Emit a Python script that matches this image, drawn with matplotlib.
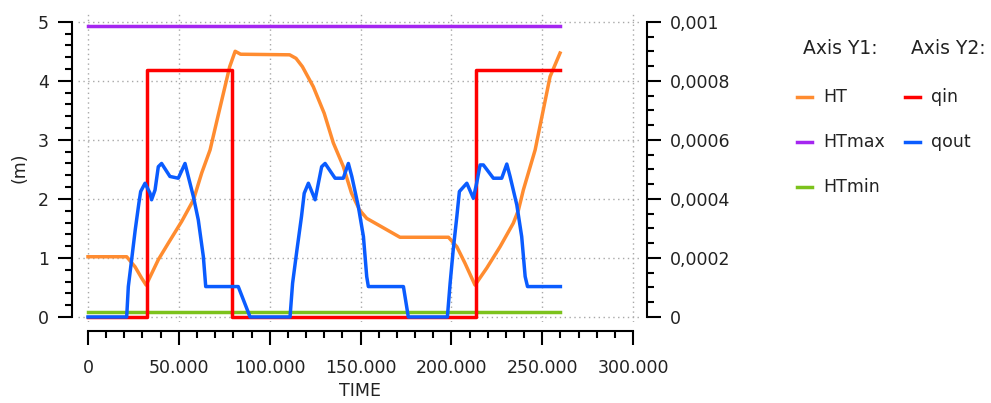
import numpy as np
import matplotlib
matplotlib.use("Agg")
import matplotlib.pyplot as plt
from matplotlib.ticker import MultipleLocator, FuncFormatter
from matplotlib.lines import Line2D

# ---- data ----
ht_t = [0, 21300, 25900, 29500, 32000, 38700, 44200, 51600, 58000, 62600, 67200,
        71000, 78000, 81000, 84000, 111000, 114500, 118000, 124000, 130000, 135000,
        140500, 145000, 149500, 153400, 162000, 171700, 198400, 203000, 207500,
        213000, 219500, 226800, 234100, 236900, 239600, 246100, 254300, 259800]
ht_v = [1.02, 1.02, 0.85, 0.66, 0.54, 0.97, 1.25, 1.62, 1.98, 2.44, 2.83,
        3.33, 4.24, 4.50, 4.45, 4.44, 4.38, 4.24, 3.90, 3.45, 2.95,
        2.55, 2.10, 1.81, 1.67, 1.52, 1.35, 1.35, 1.19, 0.91,
        0.54, 0.83, 1.19, 1.59, 1.81, 2.15, 2.83, 4.07, 4.47]

htmax_t = [0, 260000]
htmax_v = [4.92, 4.92]
htmin_t = [0, 260000]
htmin_v = [0.085, 0.085]

qin_t = [0, 32300, 79400, 213400, 260000]
qin_v = [0, 0.000835, 0, 0.000835, 0.000835]

qout_t = [0, 21300, 22200, 24000, 26000, 28000, 29000, 31400, 34100, 35000, 36900,
          38700, 40500, 45100, 49700, 53400, 55200, 58000, 60700, 63500, 64800,
          82700, 89200,
          111200, 112600, 115000, 117500, 119000, 121300, 125000, 126800, 128600,
          130500, 136000, 140500, 143300, 145200, 148800, 151600, 153400, 154300,
          173600, 176300,
          197800, 199300, 201000, 203000, 204400, 208500, 212100, 213900, 215800,
          217600, 223100, 227700, 230500, 232300, 236000, 238700, 240600, 241900,
          260000]
qout_v = [0, 0, 0.000103, 0.000193, 0.000295, 0.000385, 0.000425, 0.000453, 0.00042,
          0.000397, 0.00043, 0.000509, 0.00052, 0.000476, 0.00047, 0.00052, 0.000476,
          0.000408, 0.000329, 0.000204, 0.000103,
          0.000103, 0,
          0, 0.000114, 0.000227, 0.00034, 0.000419, 0.000453, 0.000397, 0.000453,
          0.000509, 0.00052, 0.00047, 0.00047, 0.00052, 0.000476, 0.000374, 0.000272,
          0.000137, 0.000103,
          0.000103, 0,
          0, 0.000114, 0.000227, 0.00034, 0.000425, 0.000453, 0.000402, 0.000453,
          0.000515, 0.000515, 0.00047, 0.00047, 0.000518, 0.000476, 0.00038, 0.000272,
          0.000137, 0.000103,
          0.000103]

c_ht = "#ff8c30"
c_max = "#a526f0"
c_min = "#7cc21c"
c_qin = "#ff0000"
c_qout = "#0a5cff"
lw = 2.5
txt = "#222222"
fs = 12.5

plt.rcParams['font.family'] = ['DejaVu Sans']

fig = plt.figure(figsize=(9.91, 4.03), dpi=100)
ax = fig.add_axes([0.0787, 0.201, 0.5693, 0.767])
ax2 = ax.twinx()

ax.plot(htmax_t, htmax_v, color=c_max, lw=lw)
ax.plot(ht_t, ht_v, color=c_ht, lw=lw)
ax.plot(htmin_t, htmin_v, color=c_min, lw=lw, zorder=5)

ax2.plot(qin_t, qin_v, color=c_qin, lw=lw, drawstyle="steps-post")
ax2.plot(qout_t, qout_v, color=c_qout, lw=lw)

ax.set_xlim(-5500, 305000)
ax.set_ylim(-0.085, 5.15)
ax2.set_ylim(-0.085 * 0.0002, 5.15 * 0.0002)

ax.xaxis.set_major_locator(MultipleLocator(50000))
ax.xaxis.set_minor_locator(MultipleLocator(10000))
ax.yaxis.set_major_locator(MultipleLocator(1))
ax.yaxis.set_minor_locator(MultipleLocator(0.2))
ax2.yaxis.set_major_locator(MultipleLocator(0.0002))
ax2.yaxis.set_minor_locator(MultipleLocator(0.00005))

ax.xaxis.set_major_formatter(FuncFormatter(lambda v, p: f"{int(round(v)):,}".replace(",", ".")))
ax.yaxis.set_major_formatter(FuncFormatter(lambda v, p: f"{v:g}"))
ax2.yaxis.set_major_formatter(FuncFormatter(
    lambda v, p: "0" if abs(v) < 1e-12 else f"{round(v, 6):g}".replace(".", ",")))

ax.grid(True, which="major", color="#a8a8a8", linestyle=(0, (1, 2.5)), lw=1)

for a in (ax, ax2):
    a.spines["top"].set_visible(False)
ax.spines["right"].set_visible(False)
ax2.spines["left"].set_visible(False)
ax2.spines["bottom"].set_visible(False)

ax.spines["left"].set_position(("outward", 4))
ax.spines["left"].set_bounds(0, 5)
ax.spines["bottom"].set_position(("outward", 6.5))
ax.spines["bottom"].set_bounds(0, 300000)
ax2.spines["right"].set_position(("outward", 3.6))
ax2.spines["right"].set_bounds(0, 0.001)
for s in (ax.spines["left"], ax.spines["bottom"], ax2.spines["right"]):
    s.set_linewidth(1.5)

ax.tick_params(axis="both", which="major", direction="out", length=10, width=1.5,
               colors="black", labelcolor=txt, labelsize=fs)
ax.tick_params(axis="both", which="minor", direction="out", length=5, width=1.5, colors="black")
ax.tick_params(axis="y", which="major", pad=7)
ax.tick_params(axis="x", which="major", pad=10)
ax2.tick_params(axis="y", which="major", direction="out", length=10, width=1.5,
                colors="black", labelcolor=txt, labelsize=fs, pad=6)
ax2.tick_params(axis="y", which="minor", direction="out", length=5, width=1.5, colors="black")

ax.set_ylabel("(m)", color=txt, fontsize=fs, labelpad=7)
ax.set_xlabel("TIME", color=txt, fontsize=fs, labelpad=4)

# ---- legend ----
fig.text(803 / 991, 1 - 49 / 403, "Axis Y1:", color=txt, fontsize=13.5, va="center")
fig.text(911 / 991, 1 - 49 / 403, "Axis Y2:", color=txt, fontsize=13.5, va="center")
entries = [(797, 97, c_ht, "HT"), (797, 142, c_max, "HTmax"), (797, 187, c_min, "HTmin"),
           (905, 97, c_qin, "qin"), (905, 142, c_qout, "qout")]
for x0, y0, c, lab in entries:
    fig.add_artist(Line2D([x0 / 991, (x0 + 15) / 991], [1 - y0 / 403, 1 - y0 / 403],
                          color=c, lw=2.5, transform=fig.transFigure))
    fig.text((x0 + 26) / 991, 1 - y0 / 403, lab, color=txt, fontsize=fs, va="center")

fig.savefig("out.png", dpi=100)
